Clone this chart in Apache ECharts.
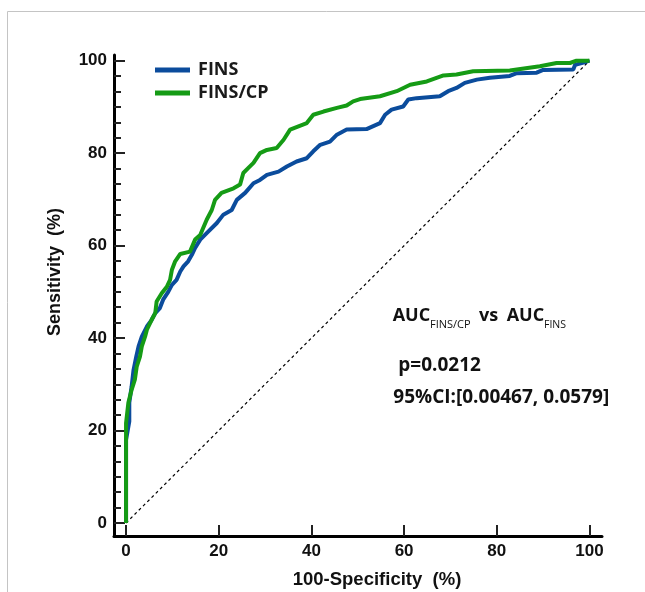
<!DOCTYPE html>
<html><head><meta charset="utf-8">
<script src="https://cdn.jsdelivr.net/npm/echarts@6/dist/echarts.min.js"></script>
<style>html,body{margin:0;padding:0;background:#fff}#c{width:645px;height:592px}</style>
</head><body><div id="c"></div>
<script>
// ROC curve of FINS (blue)
const finsX = [0, 0, 0.7, 0.7, 1.2, 1.6, 2.2, 2.7, 3.4, 4.5, 5.5, 6.3, 7.3, 8.0, 9.1, 9.9, 10.9, 11.7, 12.4, 13.4, 14.2, 14.9, 16.0, 17.4, 19.6, 21.0, 22.8, 23.9, 25.7, 27.5, 28.9, 30.4, 32.9, 34.7, 36.8, 39.0, 40.4, 41.9, 44.0, 45.5, 47.6, 51.9, 54.8, 55.9, 57.3, 59.8, 60.9, 62.7, 67.7, 69.5, 71.3, 73.1, 75.7, 78.5, 82.8, 84.3, 88.6, 90.0, 96.5, 96.9, 98.7, 100];
const finsY = [0, 18, 22, 26, 29.5, 33, 36, 38.2, 40.3, 42.5, 43.9, 45.4, 46.5, 48.3, 50, 51.5, 52.6, 54.4, 55.5, 56.6, 58, 59.5, 61.3, 62.7, 64.9, 66.7, 67.7, 69.9, 71.4, 73.5, 74.2, 75.3, 76, 77.1, 78.2, 78.9, 80.4, 81.8, 82.5, 84, 85.1, 85.2, 86.5, 88.3, 89.4, 90.1, 91.6, 91.9, 92.3, 93.4, 94.1, 95.2, 95.9, 96.3, 96.7, 97.3, 97.4, 98, 98.1, 99.1, 99.6, 100];
// ROC curve of FINS/CP (green)
const cpX = [0, 0, 0.5, 1.2, 1.9, 2.3, 3.0, 3.4, 4.1, 4.5, 5.5, 6.3, 6.6, 7.7, 8.8, 9.5, 9.9, 10.6, 11.7, 13.8, 14.9, 16.0, 17.4, 18.5, 19.2, 20.6, 23.2, 24.6, 25.3, 26.4, 27.5, 28.9, 30.4, 32.5, 34.0, 35.4, 37.2, 39.0, 40.4, 42.6, 45.5, 47.6, 49.0, 50.5, 54.8, 58.4, 61.3, 64.9, 68.5, 71.3, 74.9, 82.8, 89.3, 92.9, 95.8, 97.2, 100];
const cpY = [0, 21.6, 26, 28.8, 31, 33.8, 36, 38.2, 40.3, 41.8, 43.9, 45.4, 47.9, 49.7, 51.1, 52.6, 54.8, 56.6, 58.2, 58.7, 61.3, 62.3, 65.6, 67.7, 69.9, 71.4, 72.4, 73.2, 75.7, 76.8, 77.9, 80, 80.7, 81.1, 82.9, 85.1, 85.8, 86.5, 88.3, 89, 89.8, 90.3, 91.2, 91.7, 92.3, 93.4, 94.8, 95.5, 96.8, 97, 97.7, 97.9, 98.8, 99.5, 99.5, 100, 100];
// reference diagonal
const diagX = [0, 100];
const diagY = [0, 100];
const seriesNames = ['FINS', 'FINS/CP'];
const majorTicks = [0, 20, 40, 60, 80, 100];
const yMinorTicks = [3.33, 6.67, 10, 13.33, 16.67, 23.33, 26.67, 30, 33.33, 36.67, 43.33, 46.67, 50, 53.33, 56.67, 63.33, 66.67, 70, 73.33, 76.67, 83.33, 86.67, 90, 93.33, 96.67];
const xTitle = '100-Specificity  (%)';
const yTitle = 'Sensitivity  (%)';

const pair = (xs, ys) => xs.map((x, i) => [x, ys[i]]);
const axisFont = {fontFamily: 'Liberation Sans', fontWeight: 'bold', fontSize: 17, color: '#111'};
const annFont = 'Open Sans';

const chart = echarts.init(document.getElementById('c'), null, {renderer: 'canvas'});
chart.setOption({
  animation: false,
  backgroundColor: '#fff',
  grid: {left: 114, right: 43, top: 55, bottom: 56, containLabel: false},
  legend: {
    data: seriesNames, orient: 'vertical', left: 155, top: 61, padding: 0, itemGap: 5,
    itemWidth: 35, itemHeight: 5, icon: 'rect',
    textStyle: {fontFamily: annFont, fontWeight: 'bold', fontSize: 18, color: '#1a1a1a', lineHeight: 18, padding: [0, 0, 0, 3]}
  },
  xAxis: {
    type: 'value', min: -2.6, max: 102.7,
    axisLine: {onZero: false, lineStyle: {color: '#000', width: 3}},
    axisTick: {customValues: majorTicks, inside: true, length: 11, lineStyle: {color: '#222', width: 2}},
    axisLabel: Object.assign({customValues: majorTicks, margin: 7}, axisFont),
    splitLine: {show: false}
  },
  yAxis: [{
    type: 'value', min: -2.81, max: 101.23,
    axisLine: {onZero: false, lineStyle: {color: '#000', width: 3}},
    axisTick: {customValues: majorTicks, inside: true, length: 11, lineStyle: {color: '#222', width: 2}},
    axisLabel: Object.assign({customValues: majorTicks, margin: 7}, axisFont),
    splitLine: {show: false}
  }, {
    type: 'value', min: -2.81, max: 101.23, position: 'left', offset: 0,
    axisLine: {show: false, onZero: false},
    axisTick: {customValues: yMinorTicks, inside: true, length: 7, lineStyle: {color: '#222', width: 2}},
    axisLabel: {show: false},
    splitLine: {show: false}
  }],
  series: [{
    type: 'line', name: '_diag', data: pair(diagX, diagY), showSymbol: false, silent: true,
    lineStyle: {color: '#000', width: 1.2, type: [3, 3]}, z: 1
  }, {
    type: 'line', name: seriesNames[0], data: pair(finsX, finsY), showSymbol: false,
    color: '#0b4c9c', lineStyle: {color: '#0b4c9c', width: 4}, z: 2
  }, {
    type: 'line', name: seriesNames[1], data: pair(cpX, cpY), showSymbol: false,
    color: '#159b15', lineStyle: {color: '#159b15', width: 4}, z: 3
  }],
  graphic: [
    {type: 'rect', left: 5, top: 9, shape: {width: 700, height: 700}, style: {fill: 'none', stroke: '#c4c4c4', lineWidth: 1}, silent: true, z: -10},
    {type: 'text', x: 377, y: 580, style: {text: xTitle, font: 'bold 18.5px "Liberation Sans"', fill: '#111', align: 'center', verticalAlign: 'middle'}},
    {type: 'text', x: 55, y: 272, rotation: Math.PI / 2, style: {text: yTitle, font: 'bold 18px "Liberation Sans"', fill: '#111', align: 'center', verticalAlign: 'middle'}},
    {type: 'text', x: 392.7, y: 316, style: {text: 'AUC', font: 'bold 18px "Open Sans"', fill: '#111', align: 'left', verticalAlign: 'middle'}},
    {type: 'text', x: 430, y: 325, style: {text: 'FINS/CP', font: '11px "Open Sans"', fill: '#111', align: 'left', verticalAlign: 'middle'}},
    {type: 'text', x: 479, y: 316, style: {text: 'vs', font: 'bold 18px "Open Sans"', fill: '#111', align: 'left', verticalAlign: 'middle'}},
    {type: 'text', x: 506.7, y: 316, style: {text: 'AUC', font: 'bold 18px "Open Sans"', fill: '#111', align: 'left', verticalAlign: 'middle'}},
    {type: 'text', x: 544, y: 325, style: {text: 'FINS', font: '10.5px "Open Sans"', fill: '#111', align: 'left', verticalAlign: 'middle'}},
    {type: 'text', x: 398.3, y: 366, style: {text: 'p=0.0212', font: 'bold 19px "Open Sans"', fill: '#111', align: 'left', verticalAlign: 'middle'}},
    {type: 'text', x: 393.3, y: 398, style: {text: '95%CI:[0.00467, 0.0579]', font: 'bold 19px "Open Sans"', fill: '#111', align: 'left', verticalAlign: 'middle'}}
  ]
});
</script></body></html>
